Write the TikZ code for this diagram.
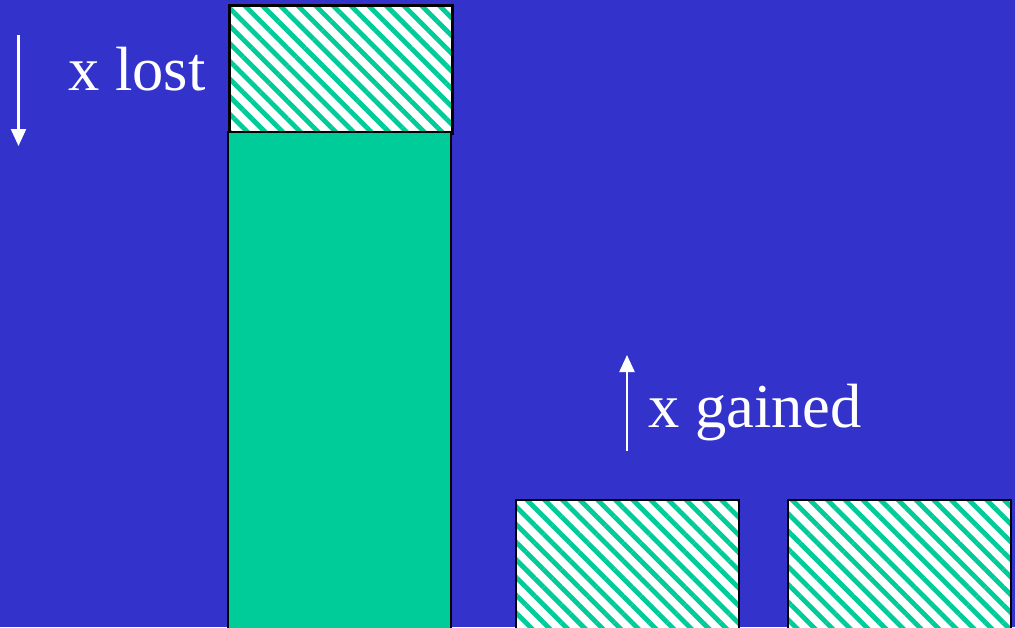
\documentclass[tikz,border=0pt]{standalone}
\usepackage{fontspec}
\setmainfont{Liberation Serif}
\usetikzlibrary{patterns.meta,arrows.meta}
\definecolor{bg}{HTML}{3333CC}
\definecolor{grn}{HTML}{00CC99}
\tikzset{
  hatchbox/.style={draw=black,line width=2.2pt,preaction={fill=white},
    pattern={Lines[angle=-45,distance=12.5pt,line width=4.8pt]},pattern color=grn},
  solidbox/.style={draw=black,line width=2.2pt,fill=grn},
  wlabel/.style={text=white,inner sep=0pt,anchor=base west,font=\fontsize{62.5}{70}\selectfont},
  warrow/.style={draw=white,line width=2.2pt,-{Triangle[length=17pt,width=15pt]}}
}
\begin{document}
\begin{tikzpicture}[x=1pt,y=-1pt]
\fill[bg] (0,0) rectangle (1015,627);
\useasboundingbox (0,0) rectangle (1015,627);
\node[hatchbox,minimum width=223pt,minimum height=128pt,anchor=north west,inner sep=0pt] (top) at (227,3) {};
\node[solidbox,minimum width=223pt,minimum height=500pt,anchor=north west,inner sep=0pt] (bar) at (227,131) {};
\node[hatchbox,minimum width=223pt,minimum height=132pt,anchor=north west,inner sep=0pt] (b1) at (515,499) {};
\node[hatchbox,minimum width=223pt,minimum height=132pt,anchor=north west,inner sep=0pt] (b2) at (787,499) {};
\coordinate (d1) at (18.5,35);
\coordinate (d2) at (18.5,146);
\coordinate (u1) at (627,451);
\coordinate (u2) at (627,355);
\draw[warrow] (d1) -- (d2);
\draw[warrow] (u1) -- (u2);
\node[wlabel] (lost) at (68,90) {x lost};
\node[wlabel] (gained) at (648,427) {x gained};
\end{tikzpicture}
\end{document}
